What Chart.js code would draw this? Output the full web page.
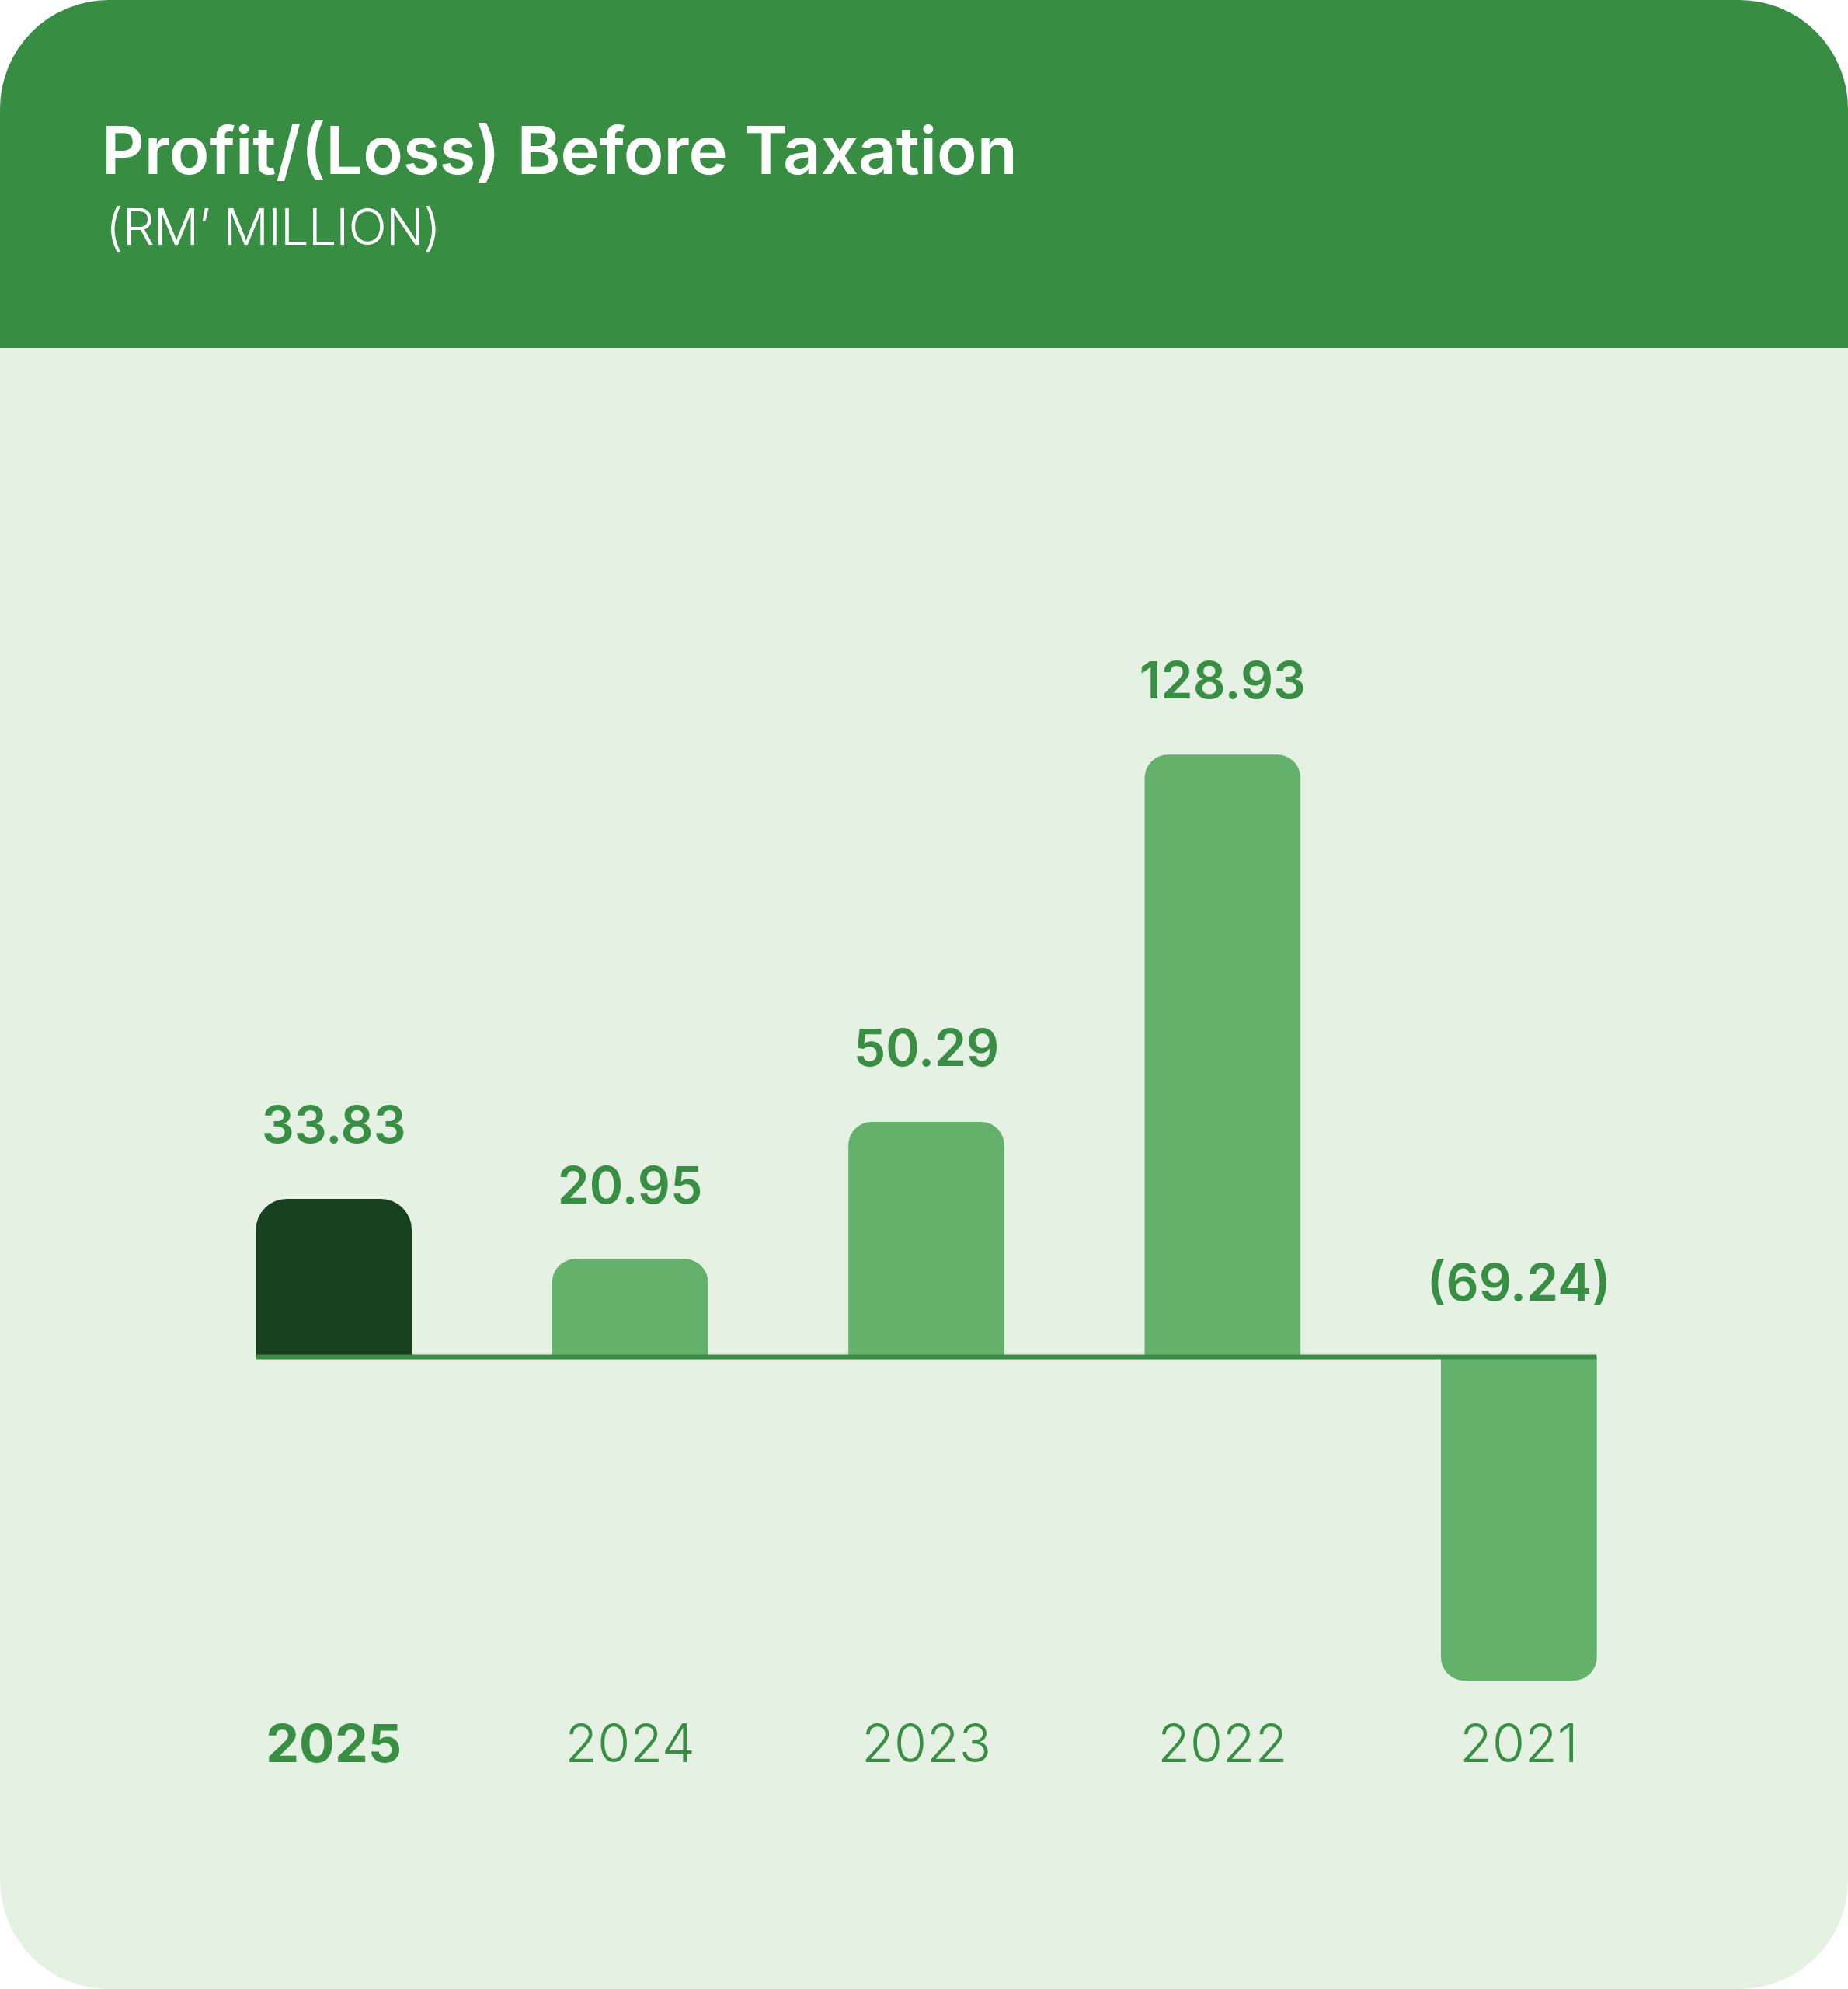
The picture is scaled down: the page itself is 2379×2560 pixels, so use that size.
<!DOCTYPE html>
<html>
<head>
<meta charset="utf-8">
<script src="https://cdn.jsdelivr.net/npm/chart.js@4/dist/chart.umd.min.js"></script>
<style>
  html, body { margin: 0; padding: 0; background: #ffffff; }
  .card {
    position: absolute; left: 0; top: 0;
    width: 2379px; height: 2560px;
    background: #e4f1e3;
    border-radius: 140px;
    overflow: hidden;
  }
  .header {
    position: absolute; left: 0; top: 0;
    width: 2379px; height: 448px;
    background: #378e43;
  }
  .title {
    position: absolute; left: 131px; top: 151px;
    margin: 0;
    font-family: Inter, sans-serif; font-weight: 600;
    font-size: 85px; line-height: 1;
    color: #ffffff; white-space: nowrap;
  }
  .subtitle {
    position: absolute; left: 136px; top: 259px;
    margin: 0;
    font-family: Inter, sans-serif; font-weight: 300;
    font-size: 65px; line-height: 1; letter-spacing: -1px;
    color: #ffffff; white-space: nowrap;
  }
  #chart { position: absolute; left: 0; top: 448px; }
</style>
</head>
<body>
<div class="card">
  <div class="header">
    <h1 class="title">Profit/(Loss) Before Taxation</h1>
    <div class="subtitle">(RM’ MILLION)</div>
  </div>
  <canvas id="chart" width="2379" height="2112"></canvas>
</div>
<script>
// data
var years = ['2025', '2024', '2023', '2022', '2021'];
var profitValues = [33.83, 20.95, 50.29, 128.93, -69.24];

var darkGreen = '#17401e';
var barGreen = '#64b16b';
var textGreen = '#388e42';

function formatValue(v) {
    var s = Math.abs(v).toFixed(2);
    return v < 0 ? '(' + s + ')' : s;
}

// zero line + labels above each bar (negative ones sit above the zero line)
var valueLabels = {
    id: 'valueLabels',
    afterDatasetsDraw: function (chart) {
        var ctx = chart.ctx;
        var meta = chart.getDatasetMeta(0);
        var zero = chart.scales.y.getPixelForValue(0);

        var first = meta.data[0];
        var last = meta.data[meta.data.length - 1];
        ctx.save();
        ctx.strokeStyle = textGreen;
        ctx.lineWidth = 6;
        ctx.beginPath();
        ctx.moveTo(first.x - first.width / 2, zero);
        ctx.lineTo(last.x + last.width / 2, zero);
        ctx.stroke();

        ctx.font = '600 66px Inter';
        ctx.fillStyle = textGreen;
        ctx.textAlign = 'center';
        ctx.textBaseline = 'middle';
        meta.data.forEach(function (bar, i) {
            ctx.fillText(formatValue(profitValues[i]), bar.x, Math.min(bar.y, zero) - 92);
        });
        ctx.restore();
    }
};

var ctx = document.getElementById('chart').getContext('2d');
var profitChart = new Chart(ctx, {
    type: 'bar',
    data: {
        labels: years,
        datasets: [{
            data: profitValues,
            backgroundColor: function (c) { return c.dataIndex === 0 ? darkGreen : barGreen; },
            borderRadius: function (c) { return c.dataIndex === 0 ? 40 : 30; },
            borderSkipped: 'start',
            barThickness: 200
        }]
    },
    options: {
        responsive: false,
        animation: false,
        devicePixelRatio: 1,
        layout: {
            padding: { left: 239, right: 233, top: 397, bottom: 263 }
        },
        plugins: {
            legend: { display: false },
            tooltip: { enabled: false }
        },
        scales: {
            x: {
                grid: { display: false, drawTicks: false },
                border: { display: false },
                ticks: {
                    color: textGreen,
                    padding: 9,
                    font: function (c) {
                        return { family: 'Inter', size: 68, weight: c.index === 0 ? '700' : '300' };
                    }
                }
            },
            y: {
                display: false,
                min: -75,
                max: 150
            }
        }
    },
    plugins: [valueLabels]
});
</script>
</body>
</html>
